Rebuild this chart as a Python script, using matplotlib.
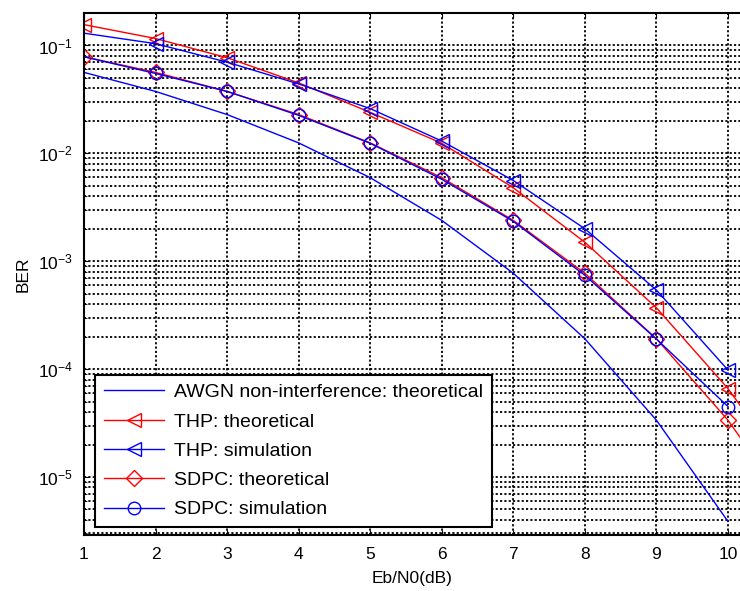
import matplotlib
matplotlib.use("Agg")
import matplotlib.pyplot as plt
import numpy as np
from matplotlib.ticker import LogLocator, NullFormatter

plt.rcParams['font.family'] = ['Liberation Sans', 'DejaVu Sans']
plt.rcParams['mathtext.fontset'] = 'custom'
plt.rcParams['mathtext.rm'] = 'Liberation Sans'

ebn0 = [1, 2, 3, 4, 5, 6, 7, 8, 9, 10]
ebn0_th = [1, 2, 3, 4, 5, 6, 7, 8, 9, 10, 11]

awgn_th = [0.0563, 0.0375, 0.0229, 0.0125, 0.00595, 0.00239, 0.000773, 0.000191, 3.36e-5, 3.87e-6]
thp_th = [0.156, 0.116, 0.077, 0.045, 0.024, 0.0124, 0.0048, 0.0015, 0.00037, 6.6e-5, 8.0e-6]
thp_sim = [0.130, 0.104, 0.070, 0.044, 0.026, 0.0130, 0.0056, 0.0020, 0.00054, 9.8e-5]
sdpc_th = [0.0786, 0.0563, 0.0375, 0.0229, 0.0125, 0.00595, 0.00239, 0.000773, 0.000191, 3.36e-5, 3.87e-6]
sdpc_sim = [0.0786, 0.055, 0.0375, 0.0225, 0.0124, 0.00575, 0.00234, 0.00074, 0.00019, 4.5e-5]

labels = ['AWGN non-interference: theoretical', 'THP: theoretical', 'THP: simulation',
          'SDPC: theoretical', 'SDPC: simulation']

fig = plt.figure(figsize=(7.40, 5.91), dpi=100)
ax = fig.add_axes([0.1135, 0.0948, 0.8865, 0.8832])

ms = 10
ax.semilogy(ebn0, awgn_th, '-', color='blue', lw=1.0, label=labels[0])
ax.semilogy(ebn0_th, thp_th, '-', color='red', lw=1.0, marker='<', ms=ms, mfc='none', mew=1.0, label=labels[1])
ax.semilogy(ebn0, thp_sim, '-', color='blue', lw=1.0, marker='<', ms=ms, mfc='none', mew=1.0,
            markevery=list(range(1, 10)), label=labels[2])
ax.semilogy(ebn0_th, sdpc_th, '-', color='red', lw=1.0, marker='D', ms=8, mfc='none', mew=1.0, label=labels[3])
ax.semilogy(ebn0, sdpc_sim, '-', color='blue', lw=1.0, marker='o', ms=9, mfc='none', mew=1.0,
            markevery=list(range(1, 10)), label=labels[4])

ax.set_xlim(1, 10.168)
ax.set_ylim(2.9e-6, 0.2)
ax.set_xticks(range(1, 11))
ax.yaxis.set_major_locator(LogLocator(base=10, numticks=15))
ax.yaxis.set_minor_locator(LogLocator(base=10, subs=np.arange(2, 10), numticks=15))
ax.yaxis.set_minor_formatter(NullFormatter())

gstyle = dict(color='black', linestyle=(0, (1.2, 1.2)), linewidth=1.3)
ax.grid(True, which='major', axis='both', **gstyle)
ax.grid(True, which='minor', axis='y', **gstyle)
ax.tick_params(which='both', direction='in', labelsize=12.5, top=True, right=False)
ax.tick_params(axis='x', pad=9)
ax.tick_params(axis='y', pad=8)
for s in ax.spines.values():
    s.set_linewidth(1.5)
ax.spines['right'].set_visible(False)

ax.set_xlabel('Eb/N0(dB)', fontsize=12.5, labelpad=6)
ax.set_ylabel('BER', fontsize=12.5, labelpad=5)

leg = ax.legend(loc='lower left', bbox_to_anchor=(0.017, 0.015), borderaxespad=0, fontsize=14,
                handlelength=3.1, labelspacing=0.6, fancybox=False, framealpha=1,
                edgecolor='black', borderpad=0.45, handletextpad=0.5)
leg.get_frame().set_linewidth(1.5)

fig.savefig('out.png', dpi=100)
